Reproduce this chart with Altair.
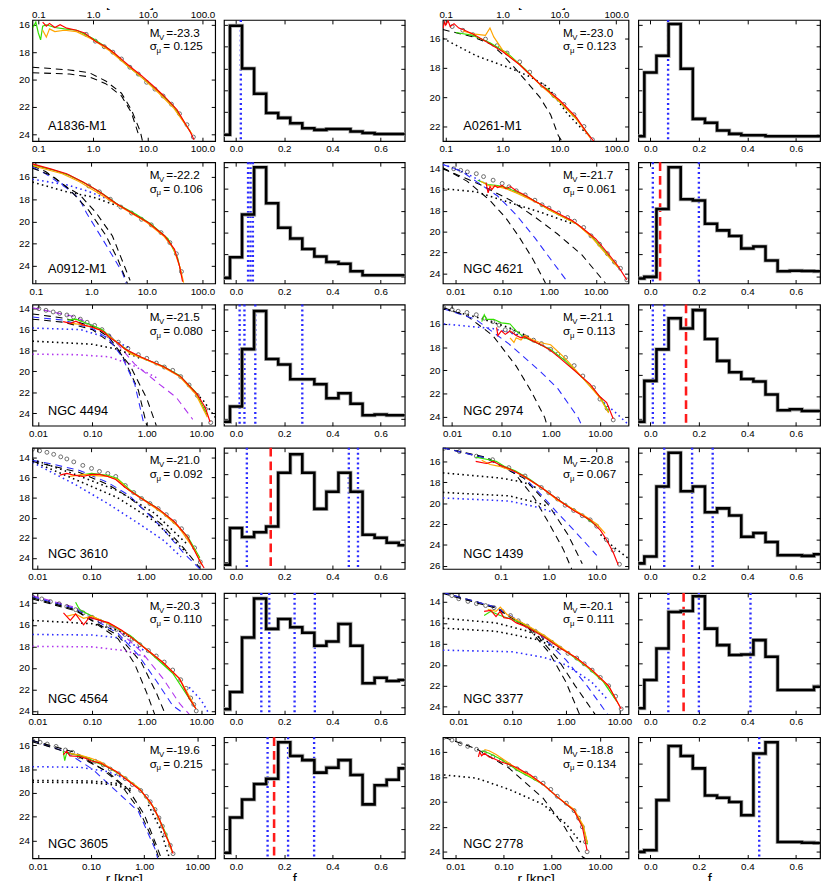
import altair as alt
import pandas as pd

FONT = "Liberation Sans"

# ---------------- galaxy labels ----------------
names = ["A1836-M1", "A0261-M1", "A0912-M1", "NGC 4621", "NGC 4494", "NGC 2974",
         "NGC 3610", "NGC 1439", "NGC 4564", "NGC 3377", "NGC 3605", "NGC 2778"]
mv_values = [-23.3, -23.0, -22.2, -21.7, -21.5, -21.1, -21.0, -20.8, -20.3, -20.1, -19.6, -18.8]
sigma_values = [0.125, 0.123, 0.106, 0.061, 0.080, 0.113, 0.092, 0.067, 0.110, 0.111, 0.215, 0.134]

# ---------------- profile axes ----------------
r_domains = [[0.078, 170], [0.089, 164], [0.087, 170], [0.0054, 50], [0.0079, 18.1], [0.0065, 38],
             [0.0081, 19.2], [0.0062, 46], [0.0081, 18], [0.0051, 14.8], [0.0079, 21.7], [0.0055, 39]]
r_ticks_arcsec = [0.1, 1, 10, 100]
r_ticks_kpc = [0.01, 0.1, 1, 10]
r_ticks_1439 = [0.1, 1, 10]
mu_domains = [[15.65, 24.5], [14.75, 23.0], [14.67, 25.57], [13.38, 24.94], [13.6, 25.2], [14.32, 24.8],
              [13.05, 25.1], [14.7, 26.3], [13.05, 24.3], [13.15, 24.7], [15.33, 25.5], [14.82, 24.53]]
mu_ticks = [[16, 18, 20, 22, 24], [16, 18, 20, 22], [16, 18, 20, 22, 24], [14, 16, 18, 20, 22, 24],
            [14, 16, 18, 20, 22, 24], [16, 18, 20, 22, 24], [14, 16, 18, 20, 22, 24], [16, 18, 20, 22, 24, 26],
            [14, 16, 18, 20, 22, 24], [14, 16, 18, 20, 22, 24], [16, 18, 20, 22, 24], [16, 18, 20, 22, 24]]

# ---------------- surface brightness profiles (r, mu) ----------------
A1836 = {
    "obs": ([0.75, 1.1, 1.6, 2.3, 3.3, 4.7, 6.7, 9.5, 13.5, 19, 27, 38, 52, 68],
            [16.7, 17.2, 17.6, 18.0, 18.5, 19.1, 19.6, 20.2, 20.7, 21.2, 21.8, 22.5, 23.3, 24.2]),
    "green": ([0.08, 0.09, 0.1, 0.11, 0.12, 0.14, 0.2, 0.3, 0.5, 1.0, 2.0, 4.0, 8.0, 16, 30, 60],
              [16.2, 15.8, 16.6, 17.1, 16.1, 16.0, 16.2, 16.3, 16.4, 17.0, 17.8, 18.9, 19.9, 20.9, 22.0, 23.8]),
    "orange": ([0.12, 0.14, 0.16, 0.2, 0.3, 0.5, 1.0, 2.0, 4.0, 8.0, 16, 30, 65],
               [16.4, 16.9, 16.3, 16.5, 16.4, 16.5, 17.1, 17.9, 18.9, 19.9, 21.0, 22.1, 24.0]),
    "red": ([0.12, 0.14, 0.16, 0.2, 0.25, 0.33, 0.5, 0.7, 1.1, 1.7, 2.5, 3.5, 4.9, 7.6, 12, 19.7, 34, 59, 70],
            [15.8, 16.1, 15.9, 16.2, 16.0, 16.25, 16.4, 16.6, 17.2, 17.6, 18.1, 18.6, 19.1, 19.7, 20.4, 21.2, 22.2, 23.8, 24.4]),
    "dash_k1": ([0.078, 0.37, 0.85, 1.7, 3.3, 5.0, 7.3, 8.0], [19.1, 19.3, 19.5, 20.1, 21.0, 22.2, 23.8, 24.5]),
    "dash_k2": ([0.078, 0.37, 0.85, 1.7, 3.3, 5.0, 7.0], [19.5, 19.6, 19.8, 20.3, 21.2, 22.4, 24.2]),
}
A0261 = {
    "obs": ([0.13, 0.2, 0.3, 0.5, 0.8, 1.2, 2, 3, 5, 8, 12, 18, 27, 38],
            [15.2, 15.45, 15.75, 16.05, 16.5, 17.0, 17.6, 18.3, 19.2, 19.9, 20.5, 21.2, 22.0, 22.9]),
    "green": ([0.15, 0.3, 0.6, 1.2, 2.5, 5, 6.5, 7, 10, 20, 35],
              [15.6, 15.8, 16.3, 17.0, 18.1, 19.3, 19.5, 19.8, 20.3, 21.5, 22.7]),
    "orange": ([0.2, 0.3, 0.5, 0.6, 0.7, 1.0, 2.0, 5, 10, 20, 35],
               [15.5, 15.7, 15.8, 15.3, 15.9, 16.8, 17.8, 19.3, 20.3, 21.5, 22.8]),
    "red": ([0.09, 0.095, 0.1, 0.11, 0.12, 0.14, 0.17, 0.2, 0.3, 0.5, 1.0, 2.0, 4.5, 10, 20, 30, 40],
            [15.3, 14.9, 15.1, 14.8, 15.2, 15.0, 15.3, 15.4, 15.7, 16.2, 16.9, 17.8, 19.1, 20.2, 21.4, 22.4, 23.0]),
    "dash_k1": ([0.089, 0.3, 0.63, 1.0, 1.8, 3, 4.5, 7, 9.5, 11], [15.4, 15.9, 16.4, 17.1, 18.2, 19.2, 20.0, 21.2, 22.6, 23.0]),
    "dot_k1": ([0.089, 0.35, 1.3, 3, 6.2, 13.6, 30], [16.0, 17.2, 18.0, 18.6, 19.3, 21.1, 22.5]),
}
A0912 = {
    "obs": ([0.9, 1.4, 2.2, 3.4, 5.3, 8.0, 12, 18, 26, 34, 42],
            [16.8, 17.33, 18.0, 18.7, 19.24, 19.8, 20.3, 21.0, 21.9, 22.9, 24.5]),
    "green": ([0.09, 0.2, 0.4, 0.8, 1.6, 3.2, 6.4, 12, 24, 36, 42],
              [14.9, 15.35, 15.85, 16.6, 17.5, 18.55, 19.35, 20.25, 21.55, 23.3, 24.8]),
    "orange": ([0.09, 0.15, 0.3, 0.6, 1.2, 2.5, 5, 10, 20, 30, 40, 46],
               [15.0, 15.3, 15.7, 16.4, 17.3, 18.3, 19.2, 20.1, 21.3, 22.4, 24.2, 25.5]),
    "red": ([0.087, 0.184, 0.36, 0.71, 1.4, 2.76, 5.4, 10.7, 21, 31.5, 38.6, 44],
            [14.81, 15.26, 15.7, 16.44, 17.33, 18.36, 19.24, 20.12, 21.3, 22.5, 23.96, 25.4]),
    "dash_k1": ([0.087, 0.15, 0.36, 0.62, 1.23, 2.4, 5.0], [15.0, 15.5, 16.9, 17.6, 19.24, 21.3, 25.3]),
    "dash_b1": ([0.087, 0.15, 0.36, 0.6, 0.82, 1.6, 3.6, 4.3], [15.1, 15.7, 17.0, 17.9, 19.24, 21.6, 24.55, 25.6]),
    "dash_k2": ([0.087, 0.2, 0.4, 0.9, 1.8, 3.0, 4.5], [15.2, 15.9, 17.1, 19.0, 21.2, 23.4, 25.6]),
    "dot_k1": ([0.087, 0.36, 1.07, 3], [16.45, 17.33, 17.8, 18.6]),
    "dot_b1": ([0.087, 0.36, 0.9, 2], [16.2, 16.7, 17.3, 18.0]),
}
N4621 = {
    "obs": ([0.0092, 0.013, 0.018, 0.028, 0.04, 0.064, 0.1, 0.14, 0.2, 0.31, 0.5, 0.71, 1.0, 1.6, 2.5, 3.5, 5.5, 7.9, 12, 17.7, 25, 33.7, 46],
            [14.0, 14.15, 14.3, 14.47, 14.75, 15.09, 15.4, 15.72, 16.1, 16.5, 17.0, 17.44, 17.75, 18.22, 18.65, 19.0, 19.6, 20.4, 21.2, 22.1, 22.9, 23.5, 24.6]),
    "green": ([0.03, 0.05, 0.08, 0.12, 0.2, 0.35, 0.6, 1.0, 2.0, 4.0, 8.0, 15, 30],
              [15.1, 15.5, 15.6, 15.8, 16.2, 16.7, 17.3, 17.9, 18.6, 19.3, 20.4, 21.8, 23.4]),
    "orange": ([0.035, 0.05, 0.08, 0.12, 0.2, 0.35, 0.6, 1.0, 2.0, 4.0, 8.0, 15, 30],
               [15.2, 15.6, 15.7, 15.9, 16.3, 16.8, 17.3, 17.9, 18.6, 19.3, 20.5, 21.9, 23.4]),
    "red": ([0.045, 0.05, 0.055, 0.06, 0.07, 0.08, 0.1, 0.12, 0.15, 0.2, 0.3, 0.5, 1, 2, 3, 5, 10, 20, 30, 46],
            [15.3, 16.3, 15.7, 16.0, 15.6, 15.8, 15.6, 15.9, 15.7, 16.1, 16.5, 17.1, 17.8, 18.5, 18.9, 19.6, 20.7, 22.3, 23.3, 24.6]),
    "dash_k1": ([0.0054, 0.018, 0.054, 0.12, 0.23, 0.45, 0.84], [13.9, 15.2, 17.0, 18.7, 20.5, 22.6, 24.9]),
    "dash_k2": ([0.0054, 0.03, 0.15, 0.5, 1.5, 5, 16], [14.0, 15.4, 17.0, 18.6, 20.2, 22.2, 24.9]),
    "dash_b1": ([0.0054, 0.013, 0.03, 0.08, 0.2, 0.5, 1.2, 2.6], [13.6, 14.2, 15.3, 16.6, 18.4, 20.6, 22.9, 24.9]),
    "dot_k1": ([0.0054, 0.028, 0.14, 0.71, 3.0], [15.9, 16.2, 17.2, 18.2, 19.2]),
    "dot_b1": ([0.0054, 0.01, 0.02, 0.04], [13.6, 14.0, 14.6, 15.3]),
}
N4494 = {
    "obs": ([0.0104, 0.014, 0.019, 0.025, 0.034, 0.045, 0.06, 0.08, 0.11, 0.15, 0.2, 0.3, 0.45, 0.7, 1.0, 1.5, 2.1, 3, 4.2, 6, 8.5, 12, 15],
            [14.0, 14.15, 14.31, 14.45, 14.6, 14.8, 15.0, 15.3, 15.6, 16.0, 16.6, 17.2, 17.8, 18.4, 18.75, 19.2, 19.58, 19.9, 20.5, 21.3, 22.3, 23.6, 24.9]),
    "green": ([0.035, 0.05, 0.07, 0.1, 0.15, 0.25, 0.5, 1, 2, 4, 8, 13],
              [15.1, 15.0, 15.3, 15.6, 16.0, 17.0, 18.2, 18.9, 19.5, 20.4, 22.0, 24.2]),
    "orange": ([0.04, 0.06, 0.1, 0.15, 0.25, 0.5, 1, 2, 4, 8, 13],
               [15.4, 15.5, 15.8, 16.1, 17.0, 18.3, 18.9, 19.6, 20.5, 22.2, 24.4]),
    "red": ([0.029, 0.04, 0.05, 0.067, 0.09, 0.134, 0.17, 0.2, 0.3, 0.4, 0.8, 2.1, 4.2, 8.5, 12, 14.6],
            [15.24, 15.4, 15.2, 15.55, 15.7, 16.0, 16.3, 16.7, 17.3, 17.87, 18.65, 19.58, 20.5, 22.2, 23.5, 24.85]),
    "dash_k1": ([0.0079, 0.03, 0.1, 0.2, 0.35, 0.7, 1.0], [14.5, 14.9, 15.7, 16.7, 18.4, 21.8, 25.2]),
    "dash_k2": ([0.0079, 0.03, 0.1, 0.25, 0.5, 1.0, 1.5], [15.0, 15.3, 16.0, 17.5, 19.5, 22.6, 25.2]),
    "dash_b1": ([0.0079, 0.03, 0.1, 0.2, 0.35, 0.6, 0.9], [14.8, 15.1, 15.9, 16.9, 18.6, 21.2, 25.2]),
    "dash_p1": ([0.0079, 0.05, 0.2, 0.6, 1.5, 3.5, 7], [13.9, 14.8, 16.4, 19.3, 21.0, 22.5, 24.6]),
    "dot_b1": ([0.0079, 0.06, 0.2, 0.5], [15.85, 16.0, 16.8, 17.8]),
    "dot_k1": ([0.0079, 0.1, 0.3, 0.8], [17.1, 17.4, 17.9, 18.8]),
    "dot_p1": ([0.0079, 0.05, 0.2, 0.5, 1.5], [18.35, 18.4, 18.6, 19.3, 20.6]),
    "dot_k2": ([7, 11, 18.1], [21.8, 22.8, 24.4]),
}
N2974 = {
    "obs": ([0.0068, 0.01, 0.0133, 0.02, 0.031, 0.045, 0.067, 0.09, 0.12, 0.16, 0.2, 0.3, 0.45, 0.65, 1.0, 1.4, 2.0, 3.0, 4.5, 7.4, 10, 14, 18.6],
            [14.6, 14.75, 14.9, 15.0, 15.2, 15.5, 15.8, 16.1, 16.5, 16.6, 16.8, 17.1, 17.4, 17.7, 18.2, 18.6, 18.9, 19.6, 20.5, 21.5, 22.5, 23.3, 24.3]),
    "green": ([0.04, 0.045, 0.05, 0.07, 0.1, 0.15, 0.2, 0.3, 0.5, 1.0, 2.0, 5, 10, 15],
              [15.8, 15.2, 15.6, 15.6, 15.9, 16.0, 16.6, 17.2, 17.6, 18.2, 19.2, 20.9, 22.3, 23.6]),
    "orange": ([0.15, 0.18, 0.2, 0.25, 0.3, 0.4, 0.6, 1.0, 2.0, 5, 10, 15],
               [17.2, 17.6, 17.2, 17.4, 17.0, 17.3, 17.6, 17.8, 19.0, 20.9, 22.4, 23.7]),
    "red": ([0.08, 0.085, 0.1, 0.12, 0.15, 0.2, 0.25, 0.3, 0.4, 0.65, 1.0, 1.4, 3.0, 6.3, 10, 13.7, 18.6],
            [16.3, 17.0, 16.6, 16.9, 16.6, 17.0, 17.2, 17.1, 17.4, 17.82, 18.3, 18.8, 20.0, 21.2, 22.3, 22.8, 24.2]),
    "dash_k1": ([0.0068, 0.02, 0.067, 0.2, 0.4, 0.76, 0.85], [14.6, 15.3, 17.0, 19.65, 21.8, 24.1, 24.8]),
    "dash_b1": ([0.0068, 0.03, 0.14, 0.65, 1.4, 3.6, 4.3], [14.7, 15.6, 17.7, 20.2, 21.6, 24.1, 24.8]),
    "dot_k1": ([0.0068, 0.031, 0.14, 0.4], [14.7, 15.4, 16.3, 17.2]),
    "dot_b1": ([0.0068, 0.067, 0.3, 1.0], [16.0, 16.4, 17.1, 18.2]),
    "dot_b2": ([12, 20, 30, 38], [22.8, 23.6, 24.3, 24.7]),
}
N3610 = {
    "obs": ([0.0081, 0.011, 0.015, 0.02, 0.027, 0.035, 0.047, 0.069, 0.1, 0.14, 0.2, 0.28, 0.42, 0.6, 0.84, 1.2, 1.7, 2.4, 3.4, 4.6, 5.9, 8, 10.2],
            [13.2, 13.35, 13.5, 13.7, 13.95, 14.16, 14.45, 14.8, 15.1, 15.4, 15.6, 15.9, 16.8, 17.5, 18.1, 18.6, 19.1, 19.7, 20.4, 21.1, 21.9, 23.0, 24.4]),
    "green": ([0.06, 0.1, 0.2, 0.3, 0.5, 0.8, 1.5, 3, 6, 10],
              [15.8, 15.6, 15.8, 16.1, 17.2, 18.0, 18.9, 20.2, 21.9, 24.0]),
    "orange": ([0.04, 0.07, 0.1, 0.2, 0.3, 0.5, 1, 2, 4, 8, 11],
               [15.9, 15.7, 15.8, 15.9, 16.2, 17.3, 18.4, 19.5, 20.9, 23.2, 24.7]),
    "red": ([0.026, 0.035, 0.05, 0.069, 0.1, 0.14, 0.2, 0.28, 0.42, 0.84, 1.7, 3.4, 5.9, 10.2, 12],
            [15.77, 15.6, 15.8, 15.9, 15.7, 15.7, 15.9, 16.2, 17.0, 18.1, 19.1, 20.4, 21.9, 24.4, 25.0]),
    "dash_k1": ([0.0081, 0.02, 0.06, 0.2, 0.5, 2.0, 5, 10], [14.4, 14.9, 15.5, 16.7, 18.0, 20.7, 23.0, 25.0]),
    "dash_b1": ([0.0081, 0.02, 0.06, 0.2, 0.5, 2.0, 5, 10], [14.3, 14.7, 15.3, 16.5, 17.8, 21.0, 23.5, 25.1]),
    "dot_b1": ([0.0081, 0.05, 0.2, 0.8, 2.2, 4.5], [14.5, 16.7, 18.6, 20.7, 22.3, 23.9]),
    "dot_k1": ([0.0081, 0.05, 0.3, 1.5, 6], [14.2, 15.7, 17.3, 19.6, 22.7]),
    "dot_k2": ([0.0081, 0.05, 0.3, 1.5, 6], [14.4, 16.2, 18.0, 20.4, 23.6]),
}
N1439 = {
    "obs": ([0.0065, 0.0137, 0.031, 0.0675, 0.147, 0.32, 0.7, 1.0, 1.53, 2.2, 3.3, 5, 7.3, 10, 16, 22, 29.8],
            [14.75, 15.06, 15.5, 15.84, 16.6, 17.4, 18.5, 19.0, 19.6, 20.2, 20.7, 21.2, 21.6, 22.2, 23.5, 24.5, 25.85]),
    "green": ([0.03, 0.05, 0.08, 0.12, 0.2, 0.4, 0.8, 1.5, 3, 6, 10],
              [15.6, 15.8, 16.0, 16.5, 16.9, 17.7, 18.7, 19.6, 20.5, 21.4, 22.2]),
    "orange": ([0.04, 0.06, 0.1, 0.2, 0.4, 0.8, 1.5, 3, 6, 10, 15],
               [15.9, 16.3, 16.5, 17.0, 17.8, 18.7, 19.7, 20.5, 21.3, 22.0, 22.9]),
    "red": ([0.03, 0.05, 0.07, 0.1, 0.15, 0.3, 0.7, 1.5, 3.3, 7.3, 12, 16, 22, 28],
            [16.0, 16.2, 16.0, 16.4, 16.7, 17.4, 18.5, 19.6, 20.7, 21.6, 22.6, 23.5, 24.7, 25.9]),
    "dash_k1": ([0.0062, 0.05, 0.2, 0.5, 1.0, 2.0, 3.0], [14.7, 15.6, 17.2, 19.5, 21.9, 24.4, 26.3]),
    "dash_k2": ([0.0062, 0.05, 0.3, 1.0, 2.5, 5.0], [14.7, 15.7, 17.6, 20.2, 23.0, 25.8]),
    "dash_b1": ([0.0062, 0.05, 0.3, 0.7, 1.5, 3.6, 7.3, 10], [14.7, 15.7, 17.5, 19.2, 20.9, 22.75, 24.3, 25.0]),
    "dot_k1": ([0.0062, 0.1, 0.3, 0.6], [17.1, 17.6, 18.0, 18.6]),
    "dot_k2": ([0.0062, 0.15, 0.5, 1.0], [18.97, 19.3, 19.9, 20.3]),
    "dot_b1": ([0.0062, 0.15, 0.6, 1.5], [19.5, 19.8, 20.4, 21.0]),
    "dot_k3": ([12, 20, 46], [23.0, 24.0, 25.3]),
}
N4564 = {
    "obs": ([0.0081, 0.012, 0.0173, 0.025, 0.0345, 0.05, 0.069, 0.1, 0.14, 0.2, 0.28, 0.4, 0.54, 0.75, 1.08, 1.5, 2.1, 3, 4.2, 5.3, 6.4, 7.3, 8.1],
            [13.4, 13.6, 13.85, 14.05, 14.3, 14.6, 14.9, 15.3, 15.67, 16.05, 16.43, 16.9, 17.34, 17.85, 18.4, 18.9, 19.46, 20.2, 21.1, 21.9, 22.8, 23.4, 24.0]),
    "green": ([0.05, 0.055, 0.06, 0.1, 0.2, 0.5, 1, 3, 8],
              [13.9, 14.3, 14.6, 15.2, 15.9, 17.0, 18.3, 20.5, 23.8]),
    "orange": ([0.035, 0.05, 0.07, 0.1, 0.15, 0.25, 0.5, 1, 2, 4, 6, 8],
               [15.2, 15.0, 15.4, 15.2, 15.6, 16.1, 17.1, 18.3, 19.5, 21.0, 22.6, 23.8]),
    "red": ([0.03, 0.04, 0.05, 0.07, 0.09, 0.12, 0.2, 0.35, 0.6, 1, 2, 4, 6, 8],
            [14.9, 15.6, 15.0, 16.0, 15.3, 15.5, 15.8, 16.5, 17.4, 18.3, 19.5, 21.0, 22.8, 23.8]),
    "dash_p1": ([0.0081, 0.05, 0.3, 0.8, 2.0, 4.0, 6.0], [13.3, 14.4, 16.5, 18.5, 21.0, 23.3, 24.3]),
    "dash_b1": ([0.0081, 0.05, 0.3, 0.7, 1.5, 3.0, 5.0], [13.4, 14.5, 16.8, 18.8, 21.2, 23.5, 24.3]),
    "dash_k1": ([0.0081, 0.05, 0.3, 0.6, 1.0, 1.4], [13.5, 14.6, 17.3, 19.6, 22.3, 24.3]),
    "dash_k2": ([0.0081, 0.05, 0.3, 0.8, 1.5, 2.2], [13.6, 14.7, 17.0, 19.5, 22.3, 24.3]),
    "dot_k1": ([0.0081, 0.1, 0.3, 0.6], [15.6, 15.9, 16.5, 17.4]),
    "dot_b1": ([0.0081, 0.1, 0.3, 0.6, 1.0], [16.9, 16.95, 17.2, 17.9, 18.5]),
    "dot_p1": ([0.0081, 0.1, 0.4, 1.0], [18.0, 18.05, 18.4, 19.0]),
    "dot_b2": ([6, 10, 14], [21.8, 23.0, 24.3]),
}
N3377 = {
    "obs": ([0.0052, 0.0075, 0.0101, 0.015, 0.0216, 0.032, 0.046, 0.065, 0.093, 0.13, 0.19, 0.27, 0.38, 0.55, 0.78, 1.1, 1.6, 2.2, 3.1, 4.4, 6.3, 8.5, 10.8],
            [13.05, 13.4, 13.7, 13.95, 14.16, 14.35, 14.55, 14.9, 15.3, 15.8, 16.3, 16.8, 17.3, 17.85, 18.4, 18.9, 19.35, 19.9, 20.5, 21.2, 22.0, 23.0, 24.2]),
    "green": ([0.03, 0.04, 0.06, 0.09, 0.15, 0.3, 0.6, 1.2, 2.5, 5, 9],
              [15.3, 14.9, 15.3, 15.6, 16.0, 16.9, 17.9, 19.0, 20.2, 21.6, 23.5]),
    "orange": ([0.035, 0.05, 0.06, 0.08, 0.12, 0.2, 0.4, 0.8, 1.6, 3.2, 6.4, 10],
               [14.7, 14.9, 14.5, 15.2, 15.7, 16.3, 17.2, 18.3, 19.4, 20.6, 22.1, 23.9]),
    "red": ([0.03, 0.04, 0.05, 0.06, 0.07, 0.093, 0.12, 0.19, 0.38, 0.78, 1.6, 3.1, 6.3, 10.8],
            [14.9, 14.8, 15.4, 14.9, 15.5, 15.6, 16.0, 16.4, 17.3, 18.4, 19.35, 20.5, 22.0, 24.2]),
    "dash_k1": ([0.0051, 0.05, 0.2, 0.5, 1.0, 1.8], [13.1, 14.5, 16.5, 18.9, 21.6, 24.7]),
    "dash_k2": ([0.0051, 0.05, 0.25, 0.7, 1.5, 3.5], [13.2, 14.6, 16.8, 19.4, 22.0, 24.7]),
    "dash_b1": ([0.0051, 0.05, 0.3, 1.0, 2.5, 6.0], [13.1, 14.5, 16.9, 19.5, 22.0, 24.7]),
    "dot_k1": ([0.0051, 0.05, 0.2, 0.5], [15.55, 16.0, 16.8, 17.9]),
    "dot_k2": ([0.0051, 0.05, 0.3, 0.8], [16.5, 16.8, 17.6, 18.6]),
    "dot_b1": ([0.0051, 0.1, 0.4, 1.0, 3, 6], [18.6, 18.75, 19.3, 20.0, 21.6, 23.3]),
}
N3605 = {
    "obs": ([0.0079, 0.011, 0.015, 0.022, 0.033, 0.045, 0.06, 0.09, 0.12, 0.17, 0.23, 0.33, 0.44, 0.6, 0.86, 1.1, 1.3, 1.6, 1.9, 2.2, 2.5, 3.1, 3.5],
            [15.6, 15.75, 15.9, 16.1, 16.4, 16.6, 16.95, 17.2, 17.35, 17.65, 18.0, 18.4, 18.8, 19.3, 19.8, 20.3, 20.75, 21.4, 22.1, 22.8, 23.5, 24.4, 25.1]),
    "green": ([0.03, 0.032, 0.035, 0.05, 0.08, 0.12, 0.2, 0.4, 0.8, 1.5, 2.5, 3.3],
              [16.5, 17.3, 16.6, 16.8, 17.0, 17.4, 17.8, 18.6, 19.6, 21.2, 23.3, 24.8]),
    "orange": ([0.04, 0.06, 0.1, 0.15, 0.25, 0.4, 0.8, 1.5, 2.5, 3.4],
               [16.7, 16.8, 17.1, 17.4, 18.0, 18.6, 19.6, 21.2, 23.4, 25.0]),
    "red": ([0.03, 0.035, 0.04, 0.06, 0.08, 0.1, 0.15, 0.2, 0.3, 0.44, 0.86, 1.3, 1.9, 2.5, 3.1, 3.5],
            [16.8, 16.5, 16.9, 16.95, 17.1, 17.3, 17.5, 17.8, 18.2, 18.8, 19.8, 20.75, 22.1, 23.5, 24.4, 25.1]),
    "dash_b1": ([0.0079, 0.033, 0.108, 0.25, 0.78, 1.6, 1.8], [15.6, 16.55, 18.03, 19.53, 21.56, 24.7, 25.5]),
    "dash_k1": ([0.0079, 0.05, 0.15, 0.35, 0.8, 1.5, 1.9], [15.6, 16.6, 17.9, 19.2, 21.4, 24.1, 25.5]),
    "dash_k2": ([0.0079, 0.05, 0.2, 0.5, 1.0, 1.7, 2.1], [15.7, 16.8, 18.2, 19.7, 21.8, 24.4, 25.5]),
    "dot_b1": ([0.0079, 0.06, 0.2, 0.5], [17.8, 17.85, 18.2, 18.9]),
    "dot_k1": ([0.0079, 0.1, 0.3, 0.6], [18.95, 19.0, 19.2, 19.7]),
    "dot_k2": ([0.0079, 0.1, 0.3, 0.6], [19.1, 19.15, 19.35, 19.85]),
    "dot_k3": ([1.2, 2.0, 3.0], [21.0, 23.0, 25.5]),
}
N2778 = {
    "obs": ([0.0058, 0.0085, 0.0126, 0.018, 0.0275, 0.04, 0.06, 0.09, 0.13, 0.19, 0.29, 0.45, 0.66, 0.95, 1.3, 2.0, 2.9, 3.6, 4.3, 5.0, 5.4],
            [14.82, 15.05, 15.34, 15.55, 15.79, 16.05, 16.39, 16.7, 17.05, 17.35, 17.7, 18.1, 18.5, 19.0, 19.55, 20.1, 20.7, 21.3, 22.0, 23.2, 24.0]),
    "green": ([0.035, 0.05, 0.08, 0.13, 0.2, 0.35, 0.66, 1.3, 2.9, 4.5, 5.5],
              [15.9, 16.1, 16.5, 17.0, 17.5, 18.0, 18.6, 19.6, 20.7, 22.0, 23.4]),
    "orange": ([0.04, 0.05, 0.07, 0.13, 0.2, 0.35, 0.66, 1.3, 2.9, 4.5, 5.5],
               [15.8, 15.9, 16.2, 16.9, 17.4, 17.9, 18.6, 19.6, 20.6, 21.9, 23.3]),
    "red": ([0.03, 0.032, 0.035, 0.04, 0.05, 0.06, 0.09, 0.13, 0.2, 0.27, 0.35, 0.66, 1.3, 2.9, 4.3, 5.4],
            [16.4, 16.0, 16.3, 16.1, 16.4, 16.5, 16.8, 17.0, 17.3, 17.6, 17.8, 18.6, 19.6, 20.7, 22.0, 23.9]),
    "dash_k1": ([0.0058, 0.0275, 0.13, 0.66, 1.83, 4.3, 5.2], [14.82, 15.75, 17.3, 19.7, 22.0, 24.4, 24.6]),
    "dot_k1": ([0.0058, 0.0275, 0.13, 0.66, 2.0, 4.3], [17.84, 18.1, 19.0, 20.2, 21.8, 23.4]),
}
profiles = [A1836, A0261, A0912, N4621, N4494, N2974, N3610, N1439, N4564, N3377, N3605, N2778]

# ---------------- f_starburst histograms ----------------
fs_bins = [-0.05, 0.0, 0.05, 0.1, 0.15, 0.2, 0.25, 0.3, 0.35, 0.4, 0.45, 0.5, 0.55, 0.6, 0.65, 0.7]
hist_A1836 = [0.053, 0.952, 0.6, 0.392, 0.232, 0.192, 0.147, 0.107, 0.093, 0.1, 0.1, 0.08, 0.067, 0.059, 0.059, 0.059]
hist_A0261 = [0.041, 0.567, 0.704, 0.967, 0.597, 0.184, 0.151, 0.088, 0.06, 0.049, 0.049, 0.041, 0.041, 0.041, 0.041, 0.041]
hist_A0912 = [0.046, 0.216, 0.568, 0.959, 0.662, 0.459, 0.37, 0.284, 0.222, 0.176, 0.162, 0.1, 0.068, 0.068, 0.068, 0.068]
hist_N4621 = [0.041, 0.054, 0.614, 0.959, 0.695, 0.684, 0.492, 0.438, 0.392, 0.289, 0.305, 0.189, 0.1, 0.105, 0.103, 0.1]
hist_N4494 = [0.032, 0.159, 0.632, 0.946, 0.551, 0.505, 0.384, 0.384, 0.343, 0.227, 0.268, 0.181, 0.086, 0.092, 0.086, 0.086]
hist_N2974 = [0.032, 0.37, 0.63, 0.886, 0.803, 0.954, 0.716, 0.535, 0.441, 0.386, 0.365, 0.257, 0.127, 0.135, 0.122, 0.122]
hist_N3610 = [0.035, 0.338, 0.263, 0.303, 0.351, 0.794, 0.946, 0.794, 0.496, 0.638, 0.794, 0.638, 0.282, 0.257, 0.217, 0.196]
hist_N1439 = [0.046, 0.103, 0.681, 0.959, 0.641, 0.681, 0.468, 0.5, 0.441, 0.265, 0.297, 0.222, 0.114, 0.114, 0.108, 0.122]
hist_N4564 = [0.04, 0.183, 0.632, 0.954, 0.704, 0.785, 0.718, 0.672, 0.565, 0.6, 0.745, 0.565, 0.255, 0.301, 0.274, 0.282]
hist_N3377 = [0.049, 0.282, 0.542, 0.844, 0.852, 0.973, 0.706, 0.57, 0.488, 0.493, 0.611, 0.474, 0.2, 0.2, 0.2, 0.227]
hist_N3605 = [0.046, 0.338, 0.486, 0.614, 0.657, 0.959, 0.846, 0.811, 0.708, 0.749, 0.811, 0.689, 0.446, 0.603, 0.649, 0.743]
hist_N2778 = [0.054, 0.068, 0.481, 0.927, 0.846, 0.743, 0.519, 0.5, 0.465, 0.357, 0.865, 0.959, 0.135, 0.135, 0.13, 0.127]
hists = [hist_A1836, hist_A0261, hist_A0912, hist_N4621, hist_N4494, hist_N2974,
         hist_N3610, hist_N1439, hist_N4564, hist_N3377, hist_N3605, hist_N2778]
blue_marks = [[0.02], [0.073], [0.05, 0.06, 0.07], [0.01, 0.2], [0.015, 0.035, 0.08, 0.275], [0.01, 0.057],
              [0.045, 0.468, 0.506], [0.057, 0.172, 0.257], [0.105, 0.138, 0.243, 0.327], [0.074, 0.2, 0.413],
              [0.131, 0.216, 0.324], [0.449]]
red_marks = [[], [], [], [0.04], [], [0.147], [0.144], [], [], [0.137], [0.158], []]
hist_tick_values = [0.06, 0.24, 0.42, 0.6, 0.78, 0.96]

# ---------------- styling ----------------
H = 124
P_W = [187, 190]
H_W = [185, 186]
BLUE = "#2b2bff"
PURPLE = "#b034ee"
STYLE = {
    "dash_k": ("black", [7, 5], 1.1),
    "dash_b": (BLUE, [7, 5], 1.1),
    "dash_p": (PURPLE, [7, 5], 1.1),
    "dot_k": ("black", [1.6, 3.4], 1.6),
    "dot_b": (BLUE, [1.6, 3.4], 1.6),
    "dot_p": (PURPLE, [1.6, 3.4], 1.6),
}
DATA_COL = {"green": "#33e000", "orange": "#ffa500", "red": "#ff0000"}

AX = dict(grid=False, domain=False, tickSize=4, offset=-4, tickColor="black", tickWidth=1,
          labelColor="black", labelFontSize=10, labelFont=FONT, titleFont=FONT,
          titleFontWeight="normal", titleColor="black")


def txt(s, x, y, size, align="left"):
    return alt.Chart(pd.DataFrame({"t": [s]})).mark_text(
        font=FONT, fontSize=size, align=align, baseline="alphabetic", color="black"
    ).encode(text="t:N", x=alt.value(x), y=alt.value(y))


def line_df(rs, mus):
    return pd.DataFrame({"r": rs, "mu": mus, "i": list(range(len(rs)))})


def profile_panel(k):
    col = k % 2
    row = k // 2
    W = P_W[col]
    g = profiles[k]
    if k < 3:
        ticks, fmt = r_ticks_arcsec, ".1f"
    elif k == 7:
        ticks, fmt = r_ticks_1439, ".1f"
    else:
        ticks, fmt = r_ticks_kpc, ".2f"
    xs = alt.Scale(type="log", domain=r_domains[k], nice=False)
    ys = alt.Scale(domain=mu_domains[k], reverse=True, nice=False, zero=False)
    bottom_kw = dict(AX, labelPadding=3)
    if row == 5:
        bottom_kw.update(title="r  [kpc]", titleFontSize=14, titlePadding=1)
    else:
        bottom_kw.update(title=None)
    x_axis = alt.Axis(values=ticks, format=fmt, orient="bottom", **bottom_kw)
    y_axis = alt.Axis(values=mu_ticks[k], format="d", title=None, labelPadding=3, **AX)
    if row == 0:
        top_axis = alt.Axis(values=ticks, format=fmt, orient="top", labelPadding=1,
                            title="\u03b8 [arcsec]", titleFontSize=14, titlePadding=0, **AX)
    else:
        top_axis = alt.Axis(values=ticks, orient="top", labels=False, title=None, **AX)
    right_axis = alt.Axis(values=mu_ticks[k], orient="right", labels=False, title=None, **AX)

    layers = []
    for key, (rs, mus) in g.items():
        base = key.rstrip("0123456789")
        if base not in STYLE:
            continue
        color, dash, sw = STYLE[base]
        layers.append(alt.Chart(line_df(rs, mus)).mark_line(
            color=color, strokeDash=dash, strokeWidth=sw, clip=True
        ).encode(x=alt.X("r:Q", scale=xs, axis=None), y=alt.Y("mu:Q", scale=ys, axis=None), order="i:Q"))
    ors, omu = g["obs"]
    layers.append(alt.Chart(line_df(ors, omu)).mark_point(
        shape="circle", filled=False, size=16, color="black", strokeWidth=0.8, clip=True
    ).encode(x=alt.X("r:Q", scale=xs, axis=x_axis), y=alt.Y("mu:Q", scale=ys, axis=y_axis)))
    for key in ["green", "orange", "red"]:
        rs, mus = g[key]
        layers.append(alt.Chart(line_df(rs, mus)).mark_line(
            color=DATA_COL[key], strokeWidth=1.2, clip=True
        ).encode(x=alt.X("r:Q", scale=xs, axis=None), y=alt.Y("mu:Q", scale=ys, axis=None), order="i:Q"))
    layers.append(alt.Chart(line_df(ors[:1], omu[:1])).mark_point(opacity=0).encode(
        x=alt.X("r:Q", scale=xs, axis=top_axis), y=alt.Y("mu:Q", scale=ys, axis=right_axis)))
    name_x = 16 if col == 0 else 21
    layers.append(txt(names[k], name_x, H - 11, 13))
    x0 = W - 67
    layers.append(txt("M", x0, 17, 12))
    layers.append(txt("V", x0 + 9.5, 20, 8))
    layers.append(txt("=%.1f" % mv_values[k], x0 + 17, 17, 12))
    layers.append(txt("\u03c3", x0, 31, 12))
    layers.append(txt("\u03bc", x0 + 7, 34, 8))
    layers.append(txt("= %.3f" % sigma_values[k], x0 + 14, 31, 12))
    return alt.layer(*layers).resolve_axis(x="independent", y="independent").properties(width=W, height=H)


def hist_panel(k):
    col = k % 2
    row = k // 2
    W = H_W[col]
    xs = alt.Scale(domain=[-0.05, 0.7], nice=False, zero=False)
    ys = alt.Scale(domain=[0, 1], nice=False)
    fx, fh, fi = [], [], []
    n = 0
    for c, h in zip(fs_bins, hists[k]):
        for e in (c - 0.025, c + 0.025):
            fx.append(e)
            fh.append(h)
            fi.append(n)
            n += 1
    df = pd.DataFrame({"f": fx, "h": fh, "i": fi})
    x_axis = alt.Axis(values=[0.0, 0.2, 0.4, 0.6], format=".1f", orient="bottom", title=None,
                      labelPadding=3, **AX)
    y_axis = alt.Axis(values=hist_tick_values, labels=False, title=None, **AX)
    top_axis = alt.Axis(values=[0.0, 0.2, 0.4, 0.6], orient="top", labels=False, title=None, **AX)
    right_axis = alt.Axis(values=hist_tick_values, orient="right", labels=False, title=None, **AX)
    layers = []
    if blue_marks[k]:
        layers.append(alt.Chart(pd.DataFrame({"f": blue_marks[k]})).mark_rule(
            color=BLUE, strokeDash=[2, 3], strokeWidth=2.4
        ).encode(x=alt.X("f:Q", scale=xs, axis=None)))
    if red_marks[k]:
        layers.append(alt.Chart(pd.DataFrame({"f": red_marks[k]})).mark_rule(
            color="#ff1a1a", strokeDash=[9, 5], strokeWidth=2.6
        ).encode(x=alt.X("f:Q", scale=xs, axis=None)))
    layers.append(alt.Chart(df).mark_line(color="#b0b0b0", strokeWidth=4.2, clip=True).encode(
        x=alt.X("f:Q", scale=xs, axis=None), y=alt.Y("h:Q", scale=ys, axis=None), order="i:Q"))
    layers.append(alt.Chart(df).mark_line(color="black", strokeWidth=2.6, clip=True).encode(
        x=alt.X("f:Q", scale=xs, axis=x_axis), y=alt.Y("h:Q", scale=ys, axis=y_axis), order="i:Q"))
    layers.append(alt.Chart(df.iloc[:1]).mark_point(opacity=0).encode(
        x=alt.X("f:Q", scale=xs, axis=top_axis), y=alt.Y("h:Q", scale=ys, axis=right_axis)))
    if row == 5:
        layers.append(txt("f", W / 2 - 22, H + 26, 15))
        layers.append(txt("starburst", W / 2 - 16, H + 30, 10))
    return alt.layer(*layers).resolve_axis(x="independent", y="independent").properties(width=W, height=H)


rows = []
for row in range(6):
    kL, kR = 2 * row, 2 * row + 1
    left = alt.hconcat(profile_panel(kL), hist_panel(kL), spacing=9, bounds="flush")
    right = alt.hconcat(profile_panel(kR), hist_panel(kR), spacing=10, bounds="flush")
    rows.append(alt.hconcat(left, right, spacing=22))

chart = alt.vconcat(*rows, spacing=5.6).properties(
    padding={"left": 10, "top": -24, "right": 0, "bottom": -14}
).configure(font=FONT).configure_view(stroke="black", strokeWidth=1.2)

chart.save("out.html", embed_options={"renderer": "svg", "actions": False})
